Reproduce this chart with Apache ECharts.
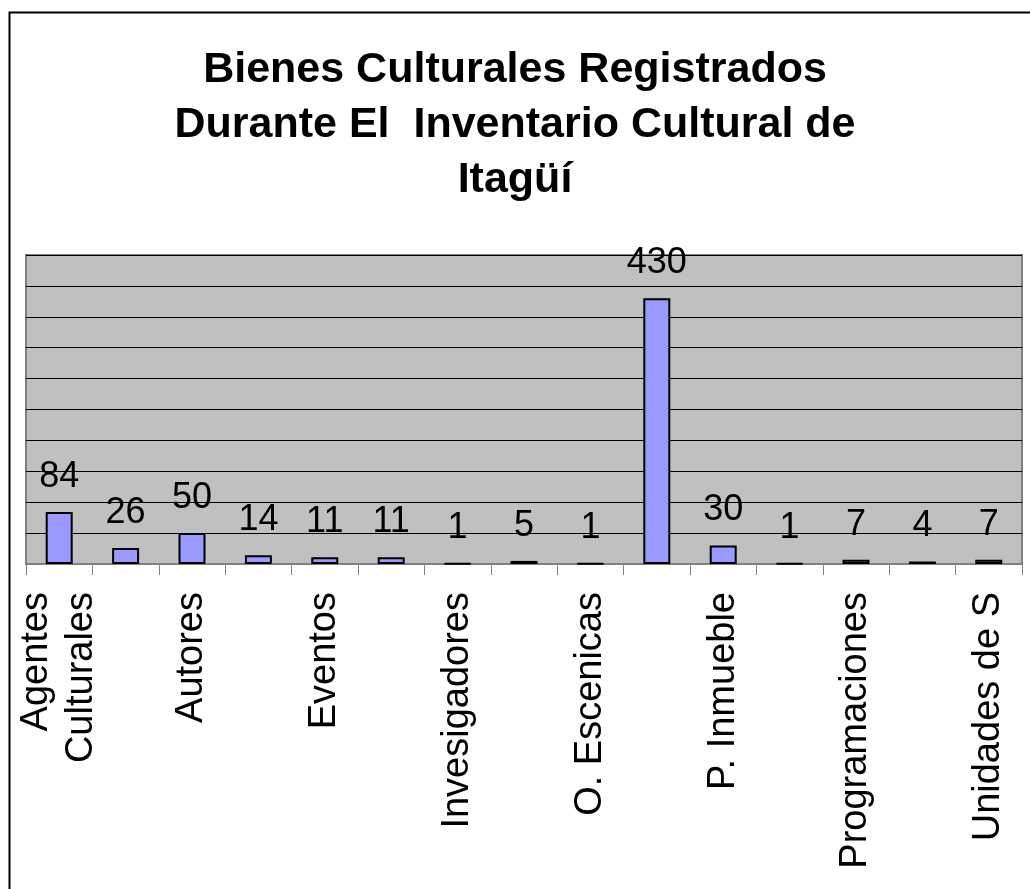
<!DOCTYPE html>
<html>
<head>
<meta charset="utf-8">
<script src="https://cdn.jsdelivr.net/npm/echarts@6/dist/echarts.min.js"></script>
<style>
html,body{margin:0;padding:0;background:#fff;}
#chart{width:1030px;height:889px;}
</style>
</head>
<body>
<div id="chart"></div>
<script>
// Data
const titleText = 'Bienes Culturales Registrados\nDurante El  Inventario Cultural de\nItagüí';
const categories = [
  'Agentes\nCulturales', 'Artistas', 'Autores', 'Bibliotecas', 'Eventos',
  'Grupos', 'Invesigadores', 'Medios', 'O. Escenicas', 'P. Inmaterial',
  'P. Inmueble', 'P. Mueble', 'Programaciones', 'Publicaciones', 'Unidades de S'
];
const values = [84, 26, 50, 14, 11, 11, 1, 5, 1, 430, 30, 1, 7, 4, 7];
const yMin = 0, yMax = 500, yStep = 50;

const FONT = "'Liberation Sans', Arial, sans-serif";
const chart = echarts.init(document.getElementById('chart'), null, {renderer: 'canvas'});
chart.setOption({
  animation: false,
  backgroundColor: '#ffffff',
  title: {
    text: titleText,
    left: 'center',
    top: 38,
    textStyle: {fontFamily: FONT, fontSize: 43, fontWeight: 'bold', color: '#000', lineHeight: 55}
  },
  graphic: [{
    type: 'rect', left: 7, top: 10, z: 100, silent: true,
    shape: {width: 1060, height: 920},
    style: {fill: 'none', stroke: '#000', lineWidth: 2}
  }],
  grid: {
    left: 26, right: 8, top: 255, bottom: 325,
    show: true, backgroundColor: '#c0c0c0', borderColor: '#808080', borderWidth: 2
  },
  xAxis: {
    type: 'category',
    data: categories,
    axisLine: {show: true, lineStyle: {color: '#808080', width: 2}},
    axisTick: {show: true, alignWithLabel: false, interval: 0, length: 11, lineStyle: {color: '#808080', width: 1}},
    axisLabel: {
      interval: function (i) { return i % 2 === 0; },
      rotate: 90, margin: 28,
      fontFamily: FONT, fontSize: 38, color: '#000', lineHeight: 45
    }
  },
  yAxis: {
    type: 'value', min: yMin, max: yMax, interval: yStep,
    axisLine: {show: false}, axisTick: {show: false}, axisLabel: {show: false},
    splitLine: {show: true, lineStyle: {color: '#000', width: 1}}
  },
  series: [{
    type: 'bar',
    data: values,
    barWidth: 27,
    itemStyle: {color: '#9999ff', borderColor: '#000', borderWidth: 2},
    label: {
      show: true, position: 'top', distance: 17,
      fontFamily: FONT, fontSize: 36, color: '#000'
    }
  }]
});
</script>
</body>
</html>
